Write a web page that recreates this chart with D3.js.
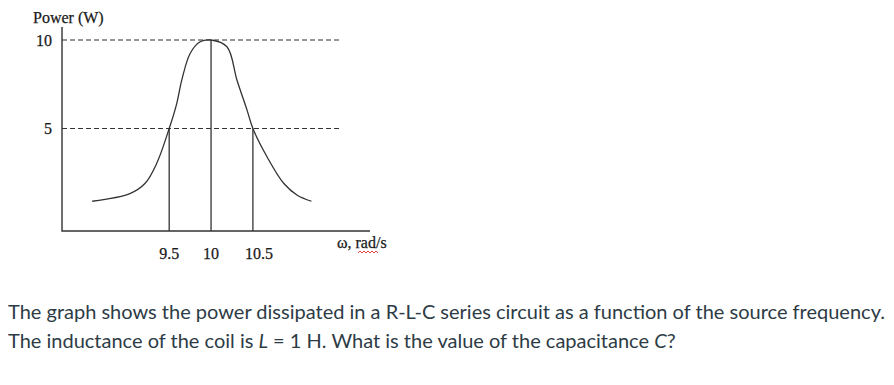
<!DOCTYPE html>
<html>
<head>
<meta charset="utf-8">
<script src="https://cdn.jsdelivr.net/npm/d3@7"></script>
<style>
  body { margin: 0; background: #fff; }
  .q { font-family: Lato, sans-serif; font-size: 20px; fill: #2d3b45; }
  .serif { font-family: "Liberation Serif", "Times New Roman", serif; fill: #1a1a1a; stroke: #1a1a1a; stroke-width: 0.25; }
</style>
</head>
<body>
<div id="viz-container"></div>
<script>
// power curve (omega in rad/s, power in W)
const omega = [8.58, 9.03, 9.21, 9.35, 9.5, 9.59, 9.65, 9.75, 9.87, 10, 10.19, 10.31, 10.43, 10.5, 10.67, 10.87, 11.03, 11.2];
const power = [0.89, 1.32, 1.89, 3.02, 5, 6.41, 7.73, 9.24, 9.9, 10, 9.62, 7.73, 6.04, 5, 3.39, 1.89, 1.23, 0.89];
const xTicks = [9.5, 10, 10.5];
const yTicks = [10, 5];
const question = [
    ["The graph shows the power dissipated in a R-L-C series circuit as a function of the source frequency."],
    ["The inductance of the coil is ", ["L", "i"], " = 1 H. What is the value of the capacitance ", ["C", "i"], "?"]
];

const drawChart = () => {
    const width = 894, height = 385;

    const svg = d3.select('#viz-container')
        .append("svg")
        .attr("width", width)
        .attr("height", height)
        .attr("viewBox", [0, 0, width, height]);

    // axis frame in pixels
    const left = 62, bottom = 231, top = 27, right = 370, dashEnd = 341;

    // scales fitted to the reference: 9.5 -> 169, 10.5 -> 253 ; 10 W -> 40, 5 W -> 128.5
    const x = d3.scaleLinear().domain([9.5, 10.5]).range([169.2, 252.9]);
    const y = d3.scaleLinear().domain([5, 10]).range([128.5, 40]);

    const ink = "#333";

    // dashed reference lines at the tick levels
    svg.append("g")
        .selectAll("line")
        .data(yTicks)
        .join("line")
        .attr("x1", left)
        .attr("x2", dashEnd)
        .attr("y1", d => y(d))
        .attr("y2", d => y(d))
        .attr("stroke", ink)
        .attr("stroke-width", 1)
        .attr("stroke-dasharray", "5,3");

    // vertical drops from the curve to the axis
    svg.append("g")
        .selectAll("line")
        .data(xTicks)
        .join("line")
        .attr("x1", d => x(d))
        .attr("x2", d => x(d))
        .attr("y1", d => d === 10 ? y(10) : y(5))
        .attr("y2", bottom)
        .attr("stroke", ink)
        .attr("stroke-width", 1.3);

    // axes
    svg.append("path")
        .attr("d", `M${left},${top}V${bottom}H${right}`)
        .attr("fill", "none")
        .attr("stroke", ink)
        .attr("stroke-width", 1.4);

    // the resonance curve
    const line = d3.line()
        .x((d, i) => x(omega[i]))
        .y(d => y(d))
        .curve(d3.curveCatmullRom.alpha(0.5));

    svg.append("path")
        .datum(power)
        .attr("d", line)
        .attr("fill", "none")
        .attr("stroke", ink)
        .attr("stroke-width", 1.3);

    // tick labels
    svg.append("g")
        .selectAll("text")
        .data(yTicks)
        .join("text")
        .attr("class", "serif")
        .attr("x", 52)
        .attr("y", d => y(d) + 5.5)
        .attr("text-anchor", "end")
        .attr("font-size", 16)
        .text(d => d);

    svg.append("g")
        .selectAll("text")
        .data(xTicks)
        .join("text")
        .attr("class", "serif")
        .attr("x", d => x(d) + (d === 10.5 ? 6 : 0))
        .attr("y", 259)
        .attr("text-anchor", "middle")
        .attr("font-size", 16)
        .text(d => d);

    svg.append("text")
        .attr("class", "serif")
        .attr("x", 33)
        .attr("y", 23)
        .attr("font-size", 16)
        .text("Power (W)");

    svg.append("text")
        .attr("class", "serif")
        .attr("x", 337)
        .attr("y", 248)
        .attr("font-size", 16)
        .text("ω, rad/s");

    // red spell-check squiggle under "rad"
    const sq = [];
    for (let px = 358; px <= 378; px += 2) sq.push([px, (px - 358) % 4 === 0 ? 253 : 251]);
    svg.append("path")
        .attr("d", d3.line()(sq))
        .attr("fill", "none")
        .attr("stroke", "#e03030")
        .attr("stroke-width", 0.9);

    // question text below the graph
    const q = svg.append("g");
    question.forEach((parts, i) => {
        const t = q.append("text")
            .attr("class", "q")
            .attr("x", 8)
            .attr("y", 319 + i * 29);
        parts.forEach(p => {
            if (Array.isArray(p)) t.append("tspan").attr("font-style", "italic").text(p[0]);
            else t.append("tspan").text(p);
        });
    });
};

drawChart();
</script>
</body>
</html>
